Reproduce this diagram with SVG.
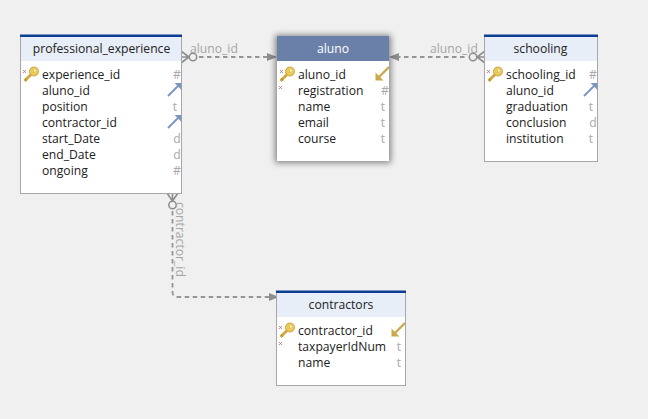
<svg xmlns="http://www.w3.org/2000/svg" width="648" height="419" viewBox="0 0 648 419">
<style>
text{font-family:"Open Sans","Noto Sans","Liberation Sans",sans-serif;font-size:12.15px;fill:#222}
.title{text-anchor:middle}
.type{fill:#a8a8a8;text-anchor:middle}
.lab{fill:#a6a6a6}
.box{fill:#fff;stroke:#a4a8ad;stroke-width:1}
.head{fill:#e8eef7}
.bar{fill:#0b3f94}
.conn{fill:none;stroke:#969696;stroke-width:1.8;stroke-dasharray:4.500 3.500}
.solid{fill:none;stroke:#8e8e8e;stroke-width:1.6}
.ah{fill:#8e8e8e}
</style>
<defs>
<filter id="sh" x="-15%" y="-15%" width="130%" height="130%"><feGaussianBlur stdDeviation="3"/></filter>
<g id="key">
<path d="M0.5 15L7 8.500" stroke="#cda93f" stroke-width="2.800" fill="none"/>
<path d="M1 12.500l2 2" stroke="#b8912c" stroke-width="1.200" fill="none"/>
<circle cx="10" cy="5.500" r="4.500" fill="#e9c95c" stroke="#c29c33" stroke-width="0.800"/>
<circle cx="11" cy="4.500" r="1.100" fill="#fff3c4"/>
</g>
<path id="mark" d="M0 0l3 3M3 0l-3 3" stroke="#c06a5c" stroke-width="0.800" fill="none"/>
<g id="fk"><path d="M0 13L11.500 1.500" stroke="#7d98bd" stroke-width="2" fill="none"/><path d="M13.500 0V7L6.500 0Z" fill="#7d98bd"/></g>
<g id="pk"><path d="M13.500 0L2 11.500" stroke="#c9a94b" stroke-width="2.400" fill="none"/><path d="M0 13.500V5.500L8 13.500Z" fill="#c9a94b"/></g>
</defs>
<rect width="648" height="419" fill="#f0f0f0"/>

<g id="connectors">
<path class="conn" d="M199 57H270"/>
<path class="solid" d="M181 51L189 57L181 63M181 57H189"/>
<circle cx="193" cy="57" r="3.700" fill="#f0f0f0" stroke="#8e8e8e" stroke-width="1.500"/>
<path class="ah" d="M277 57L267 53V61Z"/>
<text class="lab" x="190" y="53">aluno_id</text>

<path class="conn" d="M396 57H466"/>
<path class="ah" d="M389 57L399 53V61Z"/>
<path class="solid" d="M485 51L477 57L485 63M477 57H485"/>
<circle cx="473" cy="57" r="3.700" fill="#f0f0f0" stroke="#8e8e8e" stroke-width="1.500"/>
<text class="lab" x="430" y="53">aluno_id</text>

<path class="conn" d="M172.500 211V292Q172.500 297 178 297H269"/>
<path class="solid" d="M167 193L172.500 201L178 193M172.500 193V201"/>
<circle cx="172.500" cy="205" r="3.700" fill="#f0f0f0" stroke="#8e8e8e" stroke-width="1.500"/>
<path class="ah" d="M279 297L269 293V301Z"/>
<text class="lab" transform="translate(175.500 202) rotate(90)">contractor_id</text>
</g>

<g id="professional_experience">
<rect class="box" x="20.500" y="35.500" width="161" height="158"/>
<rect class="head" x="21" y="37" width="160" height="24"/>
<rect class="bar" x="20" y="34.500" width="162" height="2.500"/>
<text class="title" x="101.500" y="53">professional_experience</text>
<use href="#mark" x="23" y="70"/><use href="#key" x="24" y="66"/>
<text x="42" y="79">experience_id</text><text class="type" x="177" y="79">#</text>
<text x="42" y="95">aluno_id</text><use href="#fk" x="168" y="83"/>
<text x="42" y="111">position</text><text class="type" x="175" y="111">t</text>
<text x="42" y="127">contractor_id</text><use href="#fk" x="168" y="115"/>
<text x="42" y="143">start_Date</text><text class="type" x="177" y="143">d</text>
<text x="42" y="159">end_Date</text><text class="type" x="177" y="159">d</text>
<text x="42" y="175">ongoing</text><text class="type" x="177" y="175">#</text>
</g>

<g id="aluno">
<rect x="275" y="35" width="116" height="128" fill="#000" opacity="0.45" filter="url(#sh)"/>
<rect x="277" y="36" width="112" height="125" fill="#fff"/>
<rect x="277" y="36" width="112" height="25" fill="#6b80a8"/>
<text class="title" x="333" y="53" style="fill:#fff">aluno</text>
<use href="#mark" x="280" y="70"/><use href="#key" x="280" y="66"/>
<text x="298" y="79">aluno_id</text><use href="#pk" x="375.500" y="67"/>
<use href="#mark" x="279" y="86"/>
<text x="298" y="95">registration</text><text class="type" x="385" y="95">#</text>
<text x="298" y="111">name</text><text class="type" x="383" y="111">t</text>
<text x="298" y="127">email</text><text class="type" x="383" y="127">t</text>
<text x="298" y="143">course</text><text class="type" x="383" y="143">t</text>
</g>

<g id="schooling">
<rect class="box" x="484.500" y="35.500" width="113" height="126"/>
<rect class="head" x="485" y="37" width="112" height="24"/>
<rect class="bar" x="484" y="34.500" width="114" height="2.500"/>
<text class="title" x="540.500" y="53">schooling</text>
<use href="#mark" x="487" y="70"/><use href="#key" x="488" y="66"/>
<text x="506" y="79">schooling_id</text><text class="type" x="593" y="79">#</text>
<text x="506" y="95">aluno_id</text><use href="#fk" x="584" y="83"/>
<text x="506" y="111">graduation</text><text class="type" x="591" y="111">t</text>
<text x="506" y="127">conclusion</text><text class="type" x="593" y="127">d</text>
<text x="506" y="143">institution</text><text class="type" x="591" y="143">t</text>
</g>

<g id="contractors">
<rect class="box" x="276.500" y="291.500" width="129" height="94"/>
<rect class="head" x="277" y="293" width="128" height="24"/>
<rect class="bar" x="276" y="290.500" width="130" height="2.500"/>
<text class="title" x="341" y="309">contractors</text>
<use href="#mark" x="279" y="326"/><use href="#key" x="280" y="322"/>
<text x="298" y="335">contractor_id</text><use href="#pk" x="391.500" y="323"/>
<use href="#mark" x="279" y="342"/>
<text x="298" y="351">taxpayerIdNum</text><text class="type" x="399" y="351">t</text>
<text x="298" y="367">name</text><text class="type" x="399" y="367">t</text>
</g>
</svg>
